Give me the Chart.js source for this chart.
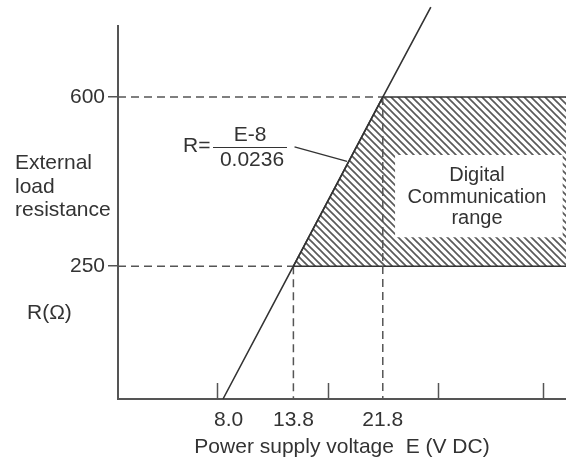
<!DOCTYPE html>
<html>
<head>
<meta charset="utf-8">
<script src="https://cdn.jsdelivr.net/npm/chart.js@4.4.1/dist/chart.umd.min.js"></script>
<style>
  html, body { margin: 0; padding: 0; background: #fff; }
  #wrap { width: 566px; height: 458px; }
</style>
</head>
<body>
<div id="wrap"><canvas id="myChart" width="566" height="458"></canvas></div>
<script>
// --- values (schematic, not to scale) ---
// E = power supply voltage (V DC), R = external load resistance (ohm)
const eLabels = [8.0, 13.8, 21.8];            // labelled points on E axis
const eMinorTicks = [7.0, 16.9, 26.7, 36.1];  // plain tick marks, no label
const rLabels = [250, 600];                    // labelled points on R axis

// R = (E-8)/0.0236 as drawn
const lineE = [7.5, 13.8, 21.8, 26.1];
const lineR = [-25, 250, 600, 786];

// digital communication range (hatched area)
const rangeE = [38.2, 21.8, 13.8, 38.2];
const rangeR = [600, 600, 250, 250];

// white box behind the range caption
const boxE = [22.9, 37.9, 37.9, 22.9];
const boxR = [480, 480, 310, 310];

// leader from the formula to the line
const leaderE = [13.9, 18.6];
const leaderR = [497, 467];

const eMin = -1.9, eMax = 38.2;
const rMin = -25, rMax = 747;

const ink = '#333';
const axisInk = '#555';
const fontFamily = '"Liberation Sans", Arial, Helvetica, sans-serif';

var ctx = document.getElementById('myChart');

function toPoints(xs, ys) {
    return xs.map((x, i) => ({ x: x, y: ys[i] }));
}

// diagonal hatch "\\\\" as canvas pattern
function makeHatch() {
    const w = 7, h = 7;
    const c = document.createElement('canvas');
    c.width = w;
    c.height = h;
    const g = c.getContext('2d');
    g.strokeStyle = '#5a5a5a';
    g.lineWidth = 1.7;
    for (let k = -1; k <= 1; k++) {
        g.beginPath();
        g.moveTo(k * w - w, -h);
        g.lineTo(k * w + 2 * w, 2 * h);
        g.stroke();
    }
    return ctx.getContext('2d').createPattern(c, 'repeat');
}

// dashed guide lines from the labelled values
const e1 = eLabels[1], e2 = eLabels[2];
const rLow = rLabels[0], rHigh = rLabels[1];

function dashed(points) {
    return {
        data: points,
        showLine: true,
        borderColor: axisInk,
        borderWidth: 1.5,
        borderDash: [8, 5],
        pointRadius: 0,
        fill: false,
        order: 2
    };
}

// texts placed on the drawing
const annotations = {
    id: 'annotations',
    afterDatasetsDraw(chart) {
        const c = chart.ctx;
        const xs = chart.scales.x;
        c.save();

        // short tick marks pointing into the plot
        c.strokeStyle = axisInk;
        c.lineWidth = 1.5;
        eMinorTicks.forEach(v => {
            const px = Math.round(xs.getPixelForValue(v)) + 0.5;
            c.beginPath();
            c.moveTo(px, xs.top);
            c.lineTo(px, xs.top - 16);
            c.stroke();
        });

        c.fillStyle = ink;
        c.textBaseline = 'middle';
        c.font = '21px ' + fontFamily;

        // y axis caption
        c.textAlign = 'left';
        c.fillText('External', 15, 163);
        c.fillText('load', 15, 187);
        c.fillText('resistance', 15, 210);
        c.fillText('R(\u03A9)', 27, 313);

        // formula
        c.fillText('R=', 183, 146);
        c.textAlign = 'center';
        c.fillText('E-8', 250, 135);
        c.fillText('0.0236', 252, 160);
        c.strokeStyle = ink;
        c.lineWidth = 1;
        c.beginPath();
        c.moveTo(213, 147.5);
        c.lineTo(287, 147.5);
        c.stroke();

        // range caption
        c.font = '20px ' + fontFamily;
        c.fillText('Digital', 477, 175);
        c.fillText('Communication', 477, 197);
        c.fillText('range', 477, 218);

        c.restore();
    }
};

const config = {
    type: 'scatter',
    data: {
        datasets: [
            {
                label: 'R = (E-8)/0.0236',
                data: toPoints(lineE, lineR),
                showLine: true,
                borderColor: ink,
                borderWidth: 1.6,
                pointRadius: 0,
                fill: false,
                clip: false,
                order: 1
            },
            {
                label: 'leader',
                data: toPoints(leaderE, leaderR),
                showLine: true,
                borderColor: ink,
                borderWidth: 1.3,
                pointRadius: 0,
                fill: false,
                order: 1
            },
            dashed([{ x: eMin, y: rHigh }, { x: e2, y: rHigh }]),
            dashed([{ x: eMin, y: rLow }, { x: e1, y: rLow }]),
            dashed([{ x: e1, y: rLow }, { x: e1, y: rMin }]),
            dashed([{ x: e2, y: rHigh }, { x: e2, y: rMin }]),
            {
                label: 'caption box',
                data: toPoints(boxE, boxR),
                showLine: true,
                borderWidth: 0,
                borderColor: 'rgba(0,0,0,0)',
                backgroundColor: '#fff',
                pointRadius: 0,
                fill: 'shape',
                order: 3
            },
            {
                label: 'Digital Communication range',
                data: toPoints(rangeE, rangeR),
                showLine: true,
                borderColor: ink,
                borderWidth: 1.5,
                backgroundColor: makeHatch(),
                pointRadius: 0,
                fill: 'shape',
                order: 4
            }
        ]
    },
    options: {
        responsive: false,
        animation: false,
        events: [],
        layout: { padding: { top: 26, right: 0, left: 0, bottom: 0 } },
        plugins: {
            legend: { display: false },
            tooltip: { enabled: false }
        },
        scales: {
            x: {
                type: 'linear',
                min: eMin,
                max: eMax,
                afterBuildTicks: s => { s.ticks = eLabels.map(v => ({ value: v })); },
                afterFit: s => { s.height = 59; },
                ticks: {
                    autoSkip: false,
                    maxRotation: 0,
                    padding: 1,
                    color: ink,
                    font: { family: fontFamily, size: 21 },
                    callback: v => Number(v).toFixed(1)
                },
                grid: { display: false },
                border: { display: true, color: axisInk, width: 2 },
                title: {
                    display: true,
                    text: 'Power supply voltage  E (V DC)',
                    color: ink,
                    font: { family: fontFamily, size: 21, lineHeight: 1.0 },
                    padding: { top: 0, bottom: 0 }
                }
            },
            y: {
                type: 'linear',
                min: rMin,
                max: rMax,
                afterBuildTicks: s => { s.ticks = rLabels.map(v => ({ value: v })); },
                afterFit: s => { s.width = 118; },
                ticks: {
                    padding: 3,
                    color: ink,
                    font: { family: fontFamily, size: 21 }
                },
                grid: {
                    drawOnChartArea: false,
                    drawTicks: true,
                    tickLength: 10,
                    color: axisInk,
                    lineWidth: 1.5
                },
                border: { display: true, color: axisInk, width: 2 }
            }
        }
    },
    plugins: [annotations]
};

const myChart = new Chart(ctx, config);
</script>
</body>
</html>
